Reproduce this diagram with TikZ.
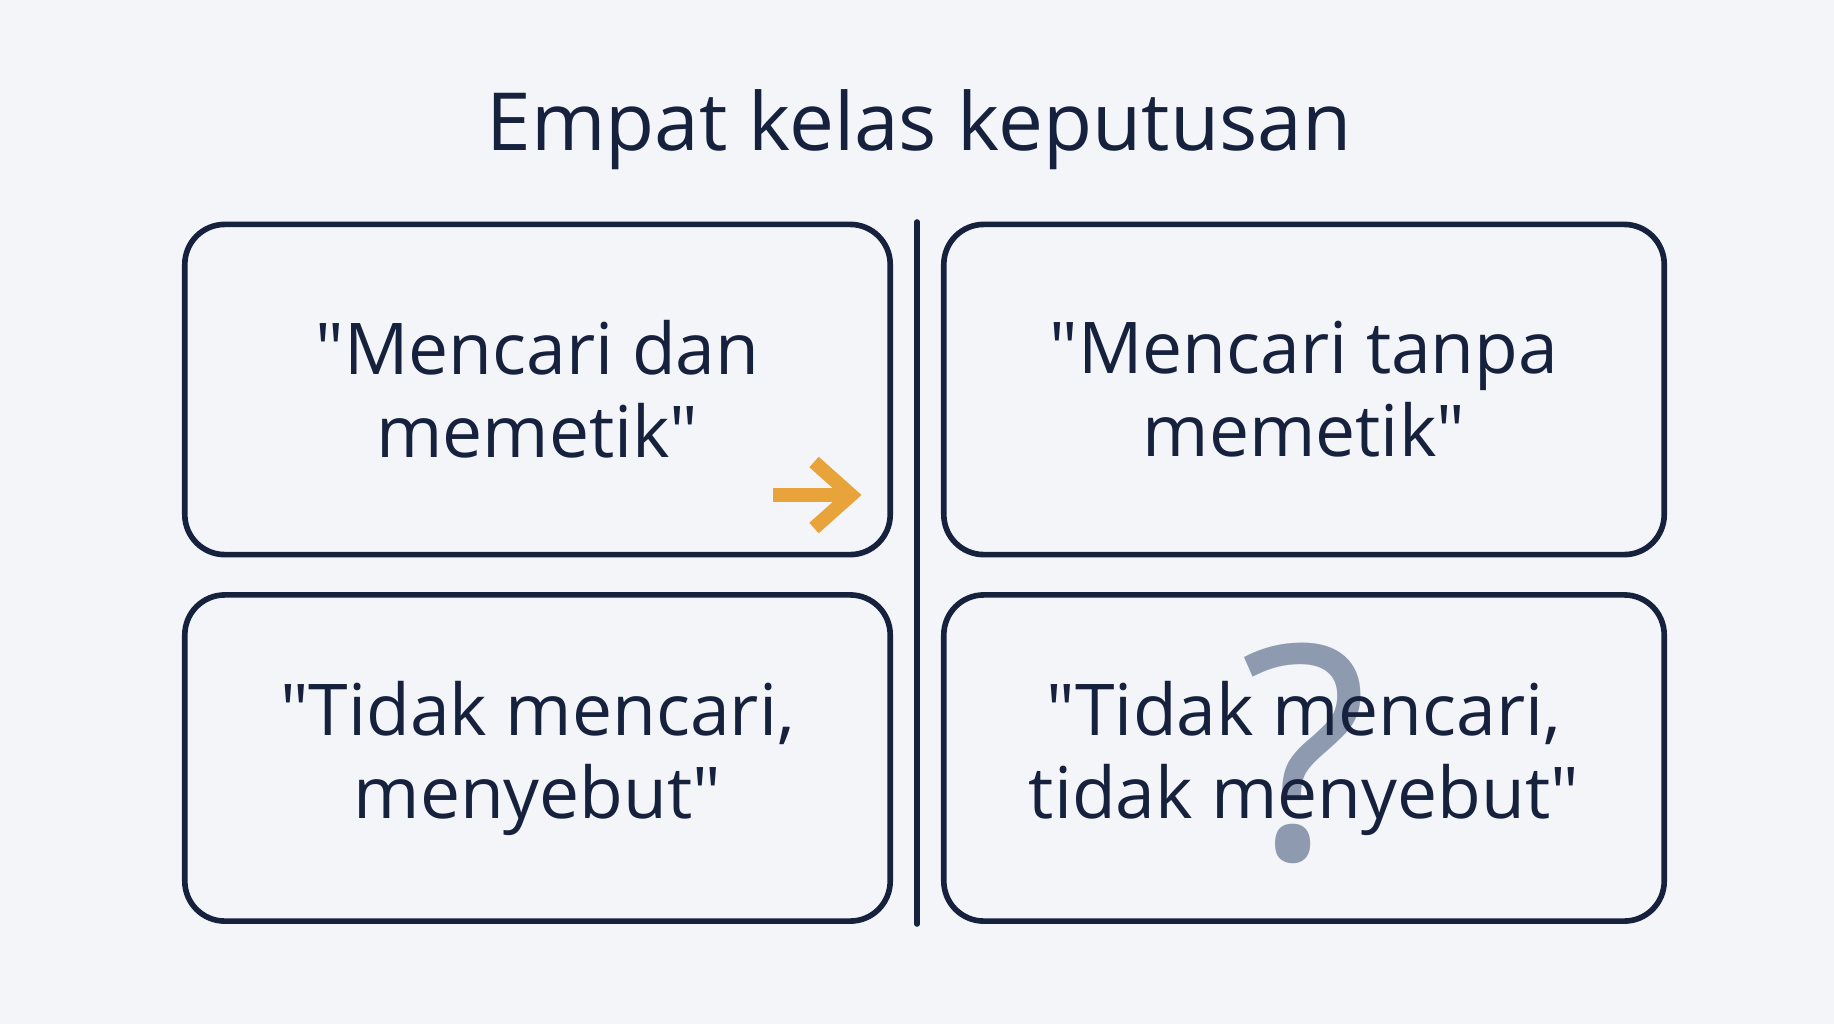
\documentclass[tikz,border=0pt]{standalone}
\usepackage{fontspec}
\setmainfont{Open Sans}
\definecolor{latar}{HTML}{F3F5F8}
\definecolor{tinta}{HTML}{16213D}
\definecolor{jingga}{HTML}{E8A33A}
\definecolor{abu}{HTML}{8E9AAF}
\newcommand{\kutip}{\textquotedbl}
\begin{document}
\begin{tikzpicture}[x=0.01cm, y=-0.01cm,
    kotak/.style={draw=tinta, line width=1.6pt, rounded corners=0.4cm, fill=latar,
      minimum height=3.3cm, inner sep=0pt, align=center, text=tinta,
      font=\fontsize{20.3}{23.6}\selectfont},
    panah/.style={draw=jingga, line width=0.14cm, line join=miter}]
            % Latar
            \fill[latar] (0,0) rectangle (1834,1024);

            % Judul
            \node (judul) at (919,150) [anchor=base, text=tinta, font=\fontsize{22.8}{27}\selectfont] {Empat kelas keputusan};

            % Baris atas
            \node (A) at (537.5,389.5) [kotak, minimum width=7.05cm] {\kutip Mencari dan\\memetik\kutip};
            \node (B) at (1304,389.5) [kotak, minimum width=7.2cm] {\kutip Mencari tanpa\\memetik\kutip};

            % Baris bawah
            \node (C) at (537.5,758) [kotak, minimum width=7.05cm, minimum height=3.26cm] {\kutip Tidak mencari,\\menyebut\kutip};
            \node (Q) at (1305,753) [text=abu, inner sep=0pt, font=\fontsize{85}{85}\selectfont] {?};
            \node (D) at (1304,758) [kotak, minimum width=7.2cm, minimum height=3.26cm, fill=none] {\kutip Tidak mencari,\\tidak menyebut\kutip};

            % Garis tengah
            \coordinate (atas) at (917,222);
            \coordinate (bawah) at (917,924);
            \draw[tinta, line width=1.6pt, line cap=round] (atas) -- (bawah);

            % Panah
            \draw[panah] (773,495) -- (850,495);
            \draw[panah] (814,462) -- (851,495) -- (814,528);
        \end{tikzpicture}
\end{document}
